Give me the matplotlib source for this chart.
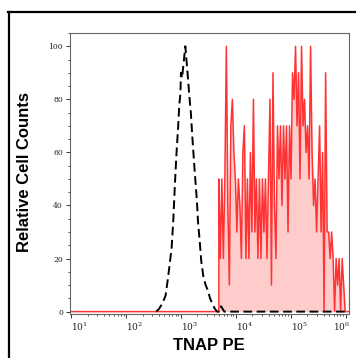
#!/usr/bin/env python3
# -*- coding: utf-8 -*-
import numpy as np
import matplotlib
matplotlib.use("Agg")
import matplotlib.pyplot as plt
import matplotlib.transforms as mtrans
from matplotlib.lines import Line2D
from matplotlib.ticker import LogLocator, MultipleLocator, FixedLocator

# isotype control (dashed black), log10 of PE and relative counts
ctrl_logx = [2.55, 2.60, 2.66, 2.72, 2.76, 2.79, 2.83, 2.86, 2.89, 2.92,
             2.95, 2.97, 2.99, 3.00, 3.02, 3.05, 3.08, 3.10, 3.12, 3.15,
             3.18, 3.21, 3.25, 3.29, 3.31, 3.34, 3.37, 3.41, 3.45, 3.49,
             3.53, 3.57, 3.62, 3.66, 3.70, 3.73, 3.76, 3.79, 6.06]
ctrl_counts = [0, 1, 3, 6, 12, 17, 24, 34, 48, 60,
               70, 78, 82, 90, 88, 94, 100, 95, 90, 82,
               75, 65, 53, 42, 34, 27, 19, 13, 10, 8,
               5, 3, 1, 0, 0, 2, 1, 0, 0]

# TNAP stained sample (red histogram), bins from 10^3.69 to 10^5.99
tnap_range = (3.69, 5.99)
tnap_counts = [50, 20, 50, 20, 50, 100, 40, 10, 70, 80, 60, 50, 30, 50, 40,
               20, 60, 70, 20, 50, 20, 60, 30, 80, 30, 50, 20, 50, 20, 50,
               30, 50, 20, 50, 80, 10, 90, 40,
               20, 70, 50, 70, 40, 70, 50, 70, 30, 70, 50, 90, 80, 100, 70,
               90, 50, 100, 70, 80, 60, 70, 50, 100, 60, 40, 50, 30, 50, 70,
               30, 60, 0, 90,
               30, 30, 20, 30, 20, 0, 20, 10, 20, 0, 20, 10, 0]

decades = [1, 2, 3, 4, 5, 6]
xmin, xmax = 10 ** 0.98, 10 ** 6.06

plt.rcParams['mathtext.fontset'] = 'dejavuserif'

fig = plt.figure(figsize=(3.56, 3.58), dpi=100)
ax = fig.add_axes([70 / 356, 1 - 314 / 358, 279 / 356, 281 / 358])

# red histogram with flat baseline on the left
tx = 10 ** np.linspace(tnap_range[0], tnap_range[1], len(tnap_counts))
tx = np.concatenate([[xmin, tx[0]], tx, [xmax]])
ty = np.concatenate([[0, 0], tnap_counts, [0]])
ax.fill_between(tx, ty, 0, color='#ffcccc', lw=0)
ax.plot(tx, ty, color='#ff3333', lw=1.1)

cx = 10 ** np.array(ctrl_logx)
ax.plot(cx, ctrl_counts, color='black', lw=1.4, linestyle=(0, (4.5, 2.3)))

ax.set_xscale('log')
ax.set_xlim(xmin, xmax)
ax.set_ylim(-0.9, 105)

ax.xaxis.set_major_locator(FixedLocator([10 ** k for k in decades]))
ax.xaxis.set_minor_locator(LogLocator(base=10, subs=np.arange(2, 10), numticks=20))
ax.set_xticklabels([r'$10^{%d}$' % k for k in decades])
ax.yaxis.set_major_locator(MultipleLocator(20))
ax.yaxis.set_minor_locator(MultipleLocator(5))

ax.tick_params(axis='both', which='major', labelsize=6.5, length=3,
               width=0.7, color='#333333', pad=2)
ax.tick_params(axis='y', which='major', labelsize=5.5)
ax.tick_params(axis='both', which='minor', length=1.6, width=0.6,
               color='#333333')
for lab in ax.get_xticklabels() + ax.get_yticklabels():
    lab.set_family('DejaVu Serif')
    lab.set_color('#222222')

xlabs = ax.get_xticklabels()
for lab in xlabs[:-1]:
    lab.set_horizontalalignment('left')
xlabs[-1].set_horizontalalignment('right')
xlabs[-1].set_transform(xlabs[-1].get_transform() +
                        mtrans.ScaledTranslation(4 / 100, 0, fig.dpi_scale_trans))

for sp in ax.spines.values():
    sp.set_color('#666666')
    sp.set_linewidth(0.8)

fig.text(25 / 356, 1 - 172 / 358, 'Relative Cell Counts', rotation=90,
         ha='center', va='center', fontsize=12, fontweight='bold',
         family='Liberation Sans')
fig.text(209 / 356, 1 - 345 / 358, 'TNAP PE', ha='center', va='center',
         fontsize=12, fontweight='bold', family='Liberation Sans')

# outer frame (runs off the right and bottom edges)
fig.add_artist(Line2D([9 / 356, 9 / 356], [1 - 11.5 / 358, -0.1],
                      transform=fig.transFigure, color='black', lw=1.6))
fig.add_artist(Line2D([8 / 356, 1.1], [1 - 11.5 / 358, 1 - 11.5 / 358],
                      transform=fig.transFigure, color='black', lw=1.6))

fig.savefig('out.png', dpi=100)
